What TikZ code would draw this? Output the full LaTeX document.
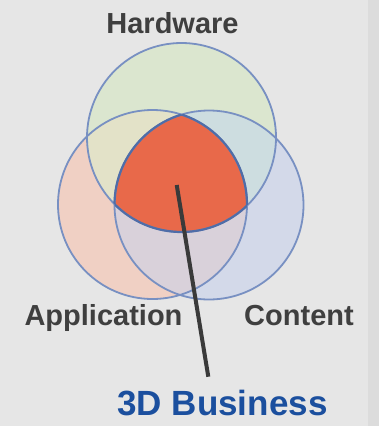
\documentclass[tikz,border=0pt]{standalone}
\usepackage{fontspec}
\setmainfont{Liberation Sans}
\definecolor{bgmain}{HTML}{E6E6E6}
\definecolor{bgstrip}{HTML}{DCDCDC}
\definecolor{hwfill}{HTML}{DBE6CF}
\definecolor{apfill}{HTML}{F0D0C4}
\definecolor{cofill}{HTML}{D3D9E9}
\definecolor{hwap}{HTML}{E3E2C8}
\definecolor{hwco}{HTML}{CDDDE0}
\definecolor{apco}{HTML}{D9D1DA}
\definecolor{core}{HTML}{E8694A}
\definecolor{ring}{HTML}{7890C2}
\definecolor{corering}{HTML}{4F6DA8}
\definecolor{labelgray}{HTML}{3F3F3F}
\definecolor{bizblue}{HTML}{1B4F9E}
\definecolor{pointer}{HTML}{3A3A3A}
\tikzset{
  lbl/.style={anchor=base, text=labelgray, font=\fontsize{29}{31}\selectfont\bfseries, inner sep=0pt},
  bizlbl/.style={anchor=base, text=bizblue, font=\fontsize{35}{38}\selectfont\bfseries, inner sep=0pt},
  ringline/.style={draw=ring, line width=1.8pt},
}
\begin{document}
\begin{tikzpicture}[x=1pt,y=-1pt]
\fill[bgmain] (0,0) rectangle (368,426);
\fill[bgstrip] (368,0) rectangle (379,426);
\useasboundingbox (0,0) rectangle (379,426);
\def\R{94.5}
\coordinate (hw) at (181.5,137.5);
\coordinate (ap) at (152.5,204.5);
\coordinate (co) at (209,205);
% base fills
\fill[hwfill] (hw) circle (\R);
\fill[apfill] (ap) circle (\R);
\fill[cofill] (co) circle (\R);
% pairwise overlaps
\begin{scope}
  \clip (hw) circle (\R);
  \fill[hwap] (ap) circle (\R);
  \fill[hwco] (co) circle (\R);
\end{scope}
\begin{scope}
  \clip (ap) circle (\R);
  \fill[apco] (co) circle (\R);
\end{scope}
% core
\begin{scope}
  \clip (hw) circle (\R);
  \clip (ap) circle (\R);
  \fill[core] (co) circle (\R);
\end{scope}
% outlines
\draw[ringline] (hw) circle (\R);
\draw[ringline] (ap) circle (\R);
\draw[ringline] (co) circle (\R);
\begin{scope}
  \clip (hw) circle (\R);
  \clip (ap) circle (\R);
  \draw[draw=corering, line width=2.2pt] (co) circle (\R);
\end{scope}
\begin{scope}
  \clip (hw) circle (\R);
  \clip (co) circle (\R);
  \draw[draw=corering, line width=2.2pt] (ap) circle (\R);
\end{scope}
\begin{scope}
  \clip (ap) circle (\R);
  \clip (co) circle (\R);
  \draw[draw=corering, line width=2.2pt] (hw) circle (\R);
\end{scope}
% labels
\node[lbl] (hwl) at (172.5,33) {Hardware};
\node[lbl] (apl) at (103.5,325) {Application};
\node[lbl] (col) at (299,325) {Content};
\node[bizlbl] (biz) at (222.5,415) {3D Business};
% pointer
\coordinate (p1) at (176.7,185);
\coordinate (p2) at (208.3,376.7);
\draw[pointer, line width=4pt] (p1) -- (p2);
\end{tikzpicture}
\end{document}
